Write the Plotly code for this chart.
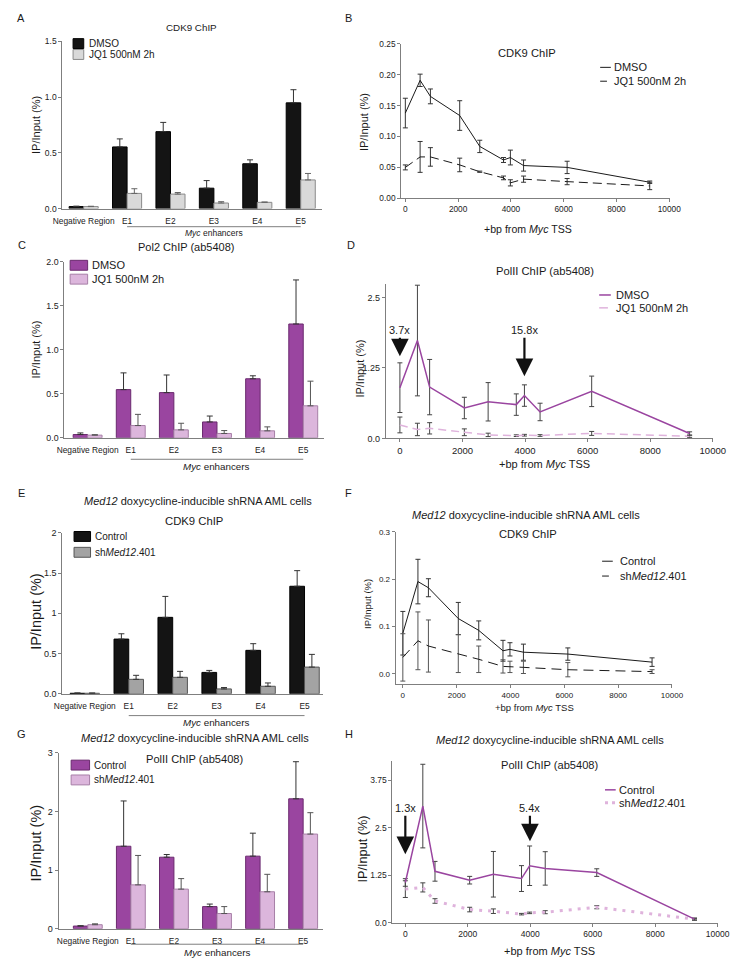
import plotly.graph_objects as go

W, H = 751, 971
def PX(x): return x / W
def PY(y): return 1 - y / H

FONT = "Liberation Sans, Arial, sans-serif"

# ---------------- data ----------------
regions = ["Negative Region", "E1", "E2", "E3", "E4", "E5"]

a_dmso = [0.018, 0.553, 0.690, 0.183, 0.402, 0.948]
a_dmso_err = [0.004, 0.072, 0.083, 0.068, 0.035, 0.118]
a_jq1 = [0.018, 0.136, 0.130, 0.050, 0.056, 0.257]
a_jq1_err = [0.003, 0.042, 0.014, 0.012, 0.003, 0.058]

c_dmso = [0.037, 0.547, 0.513, 0.180, 0.670, 1.292]
c_dmso_err = [0.018, 0.190, 0.200, 0.067, 0.034, 0.500]
c_jq1 = [0.030, 0.139, 0.090, 0.049, 0.079, 0.363]
c_jq1_err = [0.005, 0.127, 0.075, 0.033, 0.045, 0.280]

e_ctrl = [0.007, 0.680, 0.950, 0.266, 0.540, 1.336]
e_ctrl_err = [0.004, 0.066, 0.260, 0.025, 0.083, 0.194]
e_sh = [0.007, 0.180, 0.205, 0.061, 0.094, 0.332]
e_sh_err = [0.003, 0.050, 0.074, 0.017, 0.041, 0.158]

g_ctrl = [0.045, 1.407, 1.220, 0.377, 1.238, 2.217]
g_ctrl_err = [0.005, 0.773, 0.046, 0.043, 0.392, 0.633]
g_sh = [0.068, 0.748, 0.675, 0.259, 0.630, 1.615]
g_sh_err = [0.015, 0.502, 0.180, 0.118, 0.298, 0.365]

tss_pos = [0, 560, 950, 2060, 2820, 3720, 3980, 4480, 6130, 9260]
tss_ticks = [0, 2000, 4000, 6000, 8000, 10000]
tss_ticktext = ["0", "2000", "4000", "6000", "8000", "10000"]

b_dmso = [0.138, 0.191, 0.165, 0.134, 0.084, 0.062, 0.066, 0.053, 0.050, 0.026]
b_dmso_err = [0.024, 0.010, 0.012, 0.024, 0.010, 0.004, 0.012, 0.009, 0.010, 0.002]
b_jq1 = [0.050, 0.067, 0.067, 0.054, 0.043, 0.033, 0.025, 0.031, 0.027, 0.020]
b_jq1_err = [0.004, 0.025, 0.015, 0.011, 0.001, 0.003, 0.005, 0.005, 0.005, 0.006]

d_dmso = [0.90, 1.735, 0.91, 0.54, 0.65, 0.60, 0.76, 0.47, 0.835, 0.088]
d_dmso_err = [0.44, 0.98, 0.49, 0.19, 0.34, 0.19, 0.19, 0.155, 0.27, 0.03]
d_jq1 = [0.24, 0.16, 0.18, 0.11, 0.064, 0.05, 0.058, 0.053, 0.09, 0.04]
d_jq1_err = [0.14, 0.11, 0.10, 0.06, 0.03, 0.015, 0.015, 0.015, 0.035, 0.02]

f_ctrl = [0.086, 0.195, 0.182, 0.117, 0.092, 0.049, 0.052, 0.046, 0.042, 0.025]
f_ctrl_err = [0.046, 0.047, 0.019, 0.034, 0.020, 0.022, 0.014, 0.017, 0.013, 0.009]
f_sh = [0.035, 0.070, 0.059, 0.043, 0.031, 0.016, 0.015, 0.014, 0.009, 0.005]
f_sh_err = [0.050, 0.061, 0.055, 0.040, 0.028, 0.014, 0.012, 0.013, 0.015, 0.004]

h_ctrl = [1.06, 3.07, 1.354, 1.12, 1.276, 1.163, 1.50, 1.43, 1.32, 0.095]
h_ctrl_err = [0.10, 1.10, 0.26, 0.10, 0.60, 0.34, 0.52, 0.44, 0.10, 0.03]
h_sh = [0.885, 0.93, 0.573, 0.347, 0.304, 0.226, 0.26, 0.278, 0.408, 0.095]
h_sh_err = [0.22, 0.12, 0.06, 0.06, 0.06, 0.02, 0.02, 0.04, 0.04, 0.02]

# ---------------- styles ----------------
BLACK = "#141414"
LGREY = "#d9d9d9"
MGREY = "#a3a3a3"
PURPLE = "#9a45a0"
PURPLE_EDGE = "#6a2a6e"
PINK = "#dcb6dc"
PINK_LINE = "#dfb3dc"
AXC = "#7f7f7f"

fig = go.Figure()
layout = dict(width=W, height=H, margin=dict(l=0, r=0, t=0, b=0), autosize=False,
              plot_bgcolor="white", paper_bgcolor="white", showlegend=False,
              barmode="group", bargap=0.33, bargroupgap=0.0, hovermode=False,
              font=dict(family=FONT, color="#1a1a1a"))
annotations = []
shapes = []

def axis_common(ts):
    return dict(showline=True, linecolor=AXC, linewidth=1, showgrid=False, zeroline=False,
                ticks="outside", ticklen=3, tickcolor=AXC, tickwidth=1,
                tickfont=dict(size=ts, family=FONT, color="#222"))

def add_axes(n, xpx, ypx, xr, yr, xkw=None, ykw=None, xts=8.4, yts=8.5):
    xname = "xaxis" if n == 1 else f"xaxis{n}"
    yname = "yaxis" if n == 1 else f"yaxis{n}"
    xa = axis_common(xts)
    xa.update(domain=[PX(xpx[0]), PX(xpx[1])], range=xr, anchor="y" if n == 1 else f"y{n}")
    ya = axis_common(yts)
    ya.update(domain=[PY(ypx[1]), PY(ypx[0])], range=yr, anchor="x" if n == 1 else f"x{n}")
    if xkw: xa.update(xkw)
    if ykw: ya.update(ykw)
    layout[xname] = xa
    layout[yname] = ya
    return ("x" if n == 1 else f"x{n}"), ("y" if n == 1 else f"y{n}")

def text(t, x, y, size=11, xanchor="center", angle=0):
    annotations.append(dict(text=t, x=PX(x), y=PY(y), xref="paper", yref="paper",
                            showarrow=False, xanchor=xanchor, yanchor="middle",
                            textangle=angle, font=dict(size=size, family=FONT, color="#1a1a1a")))

def bar_legend(x0, x1, yc, fill, edge, label, tx, size=10):
    shapes.append(dict(type="rect", xref="paper", yref="paper", x0=PX(x0), x1=PX(x1),
                       y0=PY(yc + 5), y1=PY(yc - 5), fillcolor=fill, line=dict(color=edge, width=1)))
    text(label, tx, yc, size=size, xanchor="left")

def line_legend(x0, x1, yc, color, width, dash, label, tx, size=11):
    shapes.append(dict(type="line", xref="paper", yref="paper", x0=PX(x0), x1=PX(x1),
                       y0=PY(yc), y1=PY(yc), line=dict(color=color, width=width, dash=dash)))
    text(label, tx, yc, size=size, xanchor="left")

def bars(xa, ya, vals, errs, fill, edge, name, errc="#333"):
    fig.add_trace(go.Bar(x=regions, y=vals, name=name, xaxis=xa, yaxis=ya,
                         marker=dict(color=fill, line=dict(color=edge, width=1)),
                         error_y=dict(type="data", array=errs, arrayminus=[0] * len(errs),
                                      symmetric=False, color=errc, thickness=1, width=3)))

def lines(xa, ya, vals, errs, color, width, dash, name, errc="#333"):
    fig.add_trace(go.Scatter(x=tss_pos, y=vals, name=name, xaxis=xa, yaxis=ya, mode="lines",
                             line=dict(color=color, width=width, dash=dash),
                             error_y=dict(type="data", array=errs, color=errc, thickness=1, width=2.5)))

bar_x = dict(ticks="outside", ticklen=4, tickcolor="rgba(0,0,0,0)")
line_x = dict(tickvals=tss_ticks, ticktext=tss_ticktext)

def bracket(xa, ypx_line, ypx_text, size=9.5):
    shapes.append(dict(type="line", xref=xa, yref="paper", x0="E1", x1="E5",
                       y0=PY(ypx_line), y1=PY(ypx_line), line=dict(color=AXC, width=1)))
    annotations.append(dict(text="<i>Myc</i> enhancers", x="E3", y=PY(ypx_text), xref=xa, yref="paper",
                            showarrow=False, xanchor="center", yanchor="middle",
                            font=dict(size=size, family=FONT, color="#1a1a1a")))

def arrow(xa, xval, ytip, ytext, label):
    annotations.append(dict(text=label, x=xval, y=PY(ytip), xref=xa, yref="paper",
                            ax=0, ay=ytext - ytip, axref="pixel", ayref="pixel",
                            showarrow=True, arrowhead=2, arrowsize=1.6, arrowwidth=2.2, arrowcolor="#111",
                            font=dict(size=11, family=FONT, color="#1a1a1a")))

# ---------------- Panel A ----------------
xa, ya = add_axes(1, (55, 322), (36.7, 205.7), [-0.49, 5.48], [0, 1.5], bar_x,
                  dict(tickvals=[0, 0.5, 1.0, 1.5], ticktext=["0.0", "0.5", "1.0", "1.5"]))
bars(xa, ya, a_dmso, a_dmso_err, BLACK, "#000", "DMSO")
bars(xa, ya, a_jq1, a_jq1_err, LGREY, "#8a8a8a", "JQ1 500nM 2h", errc="#666")
text("A", 12, 13, 11)
text("CDK9 ChIP", 188, 23, 9.8)
text("IP/Input (%)", 28, 121, 11, angle=-90)
bar_legend(66, 77, 39, BLACK, "#000", "DMSO", 80, 10)
bar_legend(66, 77, 50, LGREY, "#8a8a8a", "JQ1 500nM 2h", 80, 10)
bracket(xa, 224, 230.5, 8.5)

# ---------------- Panel B ----------------
xa, ya = add_axes(2, (404, 681), (39.3, 195.3), [-158, 10030], [0, 0.25], line_x,
                  dict(tickvals=[0, 0.05, 0.10, 0.15, 0.20, 0.25],
                       ticktext=["0.00", "0.05", "0.10", "0.15", "0.20", "0.25"]), xts=8.3, yts=8.3)
lines(xa, ya, b_dmso, b_dmso_err, "#1a1a1a", 1, "solid", "DMSO")
lines(xa, ya, b_jq1, b_jq1_err, "#1a1a1a", 1, "9px,5px", "JQ1 500nM 2h")
text("B", 350, 13, 11)
text("CDK9 ChIP", 534, 48, 11.2)
text("IP/Input (%)", 366, 118, 11, angle=-90)
text("+bp from <i>Myc</i> TSS", 535, 226, 10.6)
line_legend(609, 620, 63, "#1a1a1a", 1, "solid", "DMSO", 621, 11)
line_legend(609, 616, 77, "#1a1a1a", 1, "solid", "JQ1 500nM 2h", 621, 11)

# ---------------- Panel C ----------------
xa, ya = add_axes(3, (57, 324), (259.3, 437.3), [-0.54, 5.47], [0, 2.0], bar_x,
                  dict(tickvals=[0, 0.5, 1.0, 1.5, 2.0], ticktext=["0.0", "0.5", "1.0", "1.5", "2.0"]),
                  yts=8.8)
bars(xa, ya, c_dmso, c_dmso_err, PURPLE, PURPLE_EDGE, "DMSO")
bars(xa, ya, c_jq1, c_jq1_err, PINK, "#a77fa7", "JQ1 500nM 2h", errc="#555")
text("C", 13, 243, 11)
text("Pol2 ChIP (ab5408)", 182, 245, 11)
text("IP/Input (%)", 28, 348, 11, angle=-90)
bar_legend(63, 81, 263, PURPLE, PURPLE_EDGE, "DMSO", 83, 11)
bar_legend(63, 81, 277, PINK, "#a77fa7", "JQ1 500nM 2h", 83, 11)
bracket(xa, 459, 466, 9.8)

# ---------------- Panel D ----------------
xa, ya = add_axes(4, (388.3, 725), (281.7, 438), [-447, 10000], [0, 2.74], line_x,
                  dict(tickvals=[0, 1.25, 2.5], ticktext=["0.0", "1.25", "2.5"]), xts=9.5, yts=9)
lines(xa, ya, d_jq1, d_jq1_err, PINK_LINE, 1.5, "8px,5px", "JQ1 500nM 2h", errc="#444")
lines(xa, ya, d_dmso, d_dmso_err, PURPLE, 1.5, "solid", "DMSO", errc="#444")
text("D", 352, 243, 11)
text("PolII ChIP (ab5408)", 552, 269, 11.2)
text("IP/Input (%)", 362, 367, 11, angle=-90)
text("+bp from <i>Myc</i> TSS", 552, 464, 11)
line_legend(608, 620, 293, PURPLE, 1.5, "solid", "DMSO", 623, 11)
line_legend(608, 617, 306, PINK_LINE, 1.5, "solid", "JQ1 500nM 2h", 623, 11)
arrow(xa, 0, 355, 329, "3.7x")
arrow(xa, 3980, 375, 329, "15.8x")

# ---------------- Panel E ----------------
xa, ya = add_axes(5, (55, 323), (533.3, 696), [-0.51, 5.41], [0, 2.0], bar_x,
                  dict(tickvals=[0, 0.5, 1, 1.5, 2], ticktext=["0.0", "0.5", "1", "1.5", "2"]), yts=9)
bars(xa, ya, e_ctrl, e_ctrl_err, BLACK, "#000", "Control")
bars(xa, ya, e_sh, e_sh_err, MGREY, "#555", "shMed12.401")
text("E", 13, 493, 11)
text("<i>Med12</i> doxycycline-inducible shRNA AML cells", 195, 501, 11)
text("CDK9 ChIP", 191, 521, 11.3)
text("IP/Input (%)", 28, 613, 14.5, angle=-90)
bar_legend(67, 84, 537, BLACK, "#000", "Control", 87, 10)
bar_legend(67, 84, 553, MGREY, "#555", "sh<i>Med12</i>.401", 87, 10)
bracket(xa, 718, 725, 9.8)

# ---------------- Panel F ----------------
xa, ya = add_axes(6, (398.3, 683), (532.3, 686), [-268, 10000], [-0.021, 0.3], line_x,
                  dict(tickvals=[0, 0.1, 0.2, 0.3], ticktext=["0.0", "0.1", "0.2", "0.3"]), xts=8, yts=8)
lines(xa, ya, f_ctrl, f_ctrl_err, "#1a1a1a", 1, "solid", "Control")
lines(xa, ya, f_sh, f_sh_err, "#1a1a1a", 1, "10px,6px", "shMed12.401", errc="#555")
text("F", 350, 493, 11)
text("<i>Med12</i> doxycycline-inducible shRNA AML cells", 533, 515, 11)
text("CDK9 ChIP", 535, 535, 11.2)
text("IP/Input (%)", 370, 605, 9.5, angle=-90)
text("+bp from <i>Myc</i> TSS", 541, 710, 9.5)
line_legend(611, 622, 562, "#1a1a1a", 1, "solid", "Control", 627, 11)
line_legend(611, 618, 577, "#1a1a1a", 1, "solid", "sh<i>Med12</i>.401", 627, 11)

# ---------------- Panel G ----------------
xa, ya = add_axes(7, (51, 323), (755.7, 933.3), [-0.68, 5.45], [0, 3], bar_x,
                  dict(tickvals=[0, 1, 2, 3]), yts=9)
bars(xa, ya, g_ctrl, g_ctrl_err, PURPLE, PURPLE_EDGE, "Control")
bars(xa, ya, g_sh, g_sh_err, PINK, "#a77fa7", "shMed12.401", errc="#555")
text("G", 13, 737, 11)
text("<i>Med12</i> doxycycline-inducible shRNA AML cells", 192, 741, 11)
text("PolII ChIP (ab5408)", 191, 762, 11.1)
text("IP/Input (%)", 28, 847, 14.5, angle=-90)
bar_legend(64, 83, 768, PURPLE, PURPLE_EDGE, "Control", 86, 10)
bar_legend(64, 83, 783, PINK, "#a77fa7", "sh<i>Med12</i>.401", 86, 10)
bracket(xa, 949, 957, 9.8)

# ---------------- Panel H ----------------
xa, ya = add_axes(8, (395, 730), (764.3, 927.3), [-413, 10000], [0, 4.245], line_x,
                  dict(tickvals=[0, 1.25, 2.5, 3.75], ticktext=["0.0", "1.25", "2.5", "3.75"]),
                  xts=8.5, yts=8.5)
lines(xa, ya, h_sh, h_sh_err, PINK_LINE, 3, "3px,6px", "shMed12.401", errc="#444")
lines(xa, ya, h_ctrl, h_ctrl_err, PURPLE, 1.5, "solid", "Control", errc="#444")
text("H", 350, 737, 11)
text("<i>Med12</i> doxycycline-inducible shRNA AML cells", 557, 743, 11)
text("PolII ChIP (ab5408)", 557, 768, 11.1)
text("IP/Input (%)", 365, 853, 12.7, angle=-90)
text("+bp from <i>Myc</i> TSS", 557, 956, 11)
line_legend(614, 625, 793, PURPLE, 1.5, "solid", "Control", 626, 11)
line_legend(614, 625, 806, PINK_LINE, 3, "3px,4px", "sh<i>Med12</i>.401", 626, 11)
arrow(xa, 0, 858, 812, "1.3x")
arrow(xa, 3990, 845, 812, "5.4x")

layout["annotations"] = annotations
layout["shapes"] = shapes
fig.update_layout(**layout)
fig.write_html("out.html", config={"displayModeBar": False},
               post_script="document.body.style.margin='0px';")
